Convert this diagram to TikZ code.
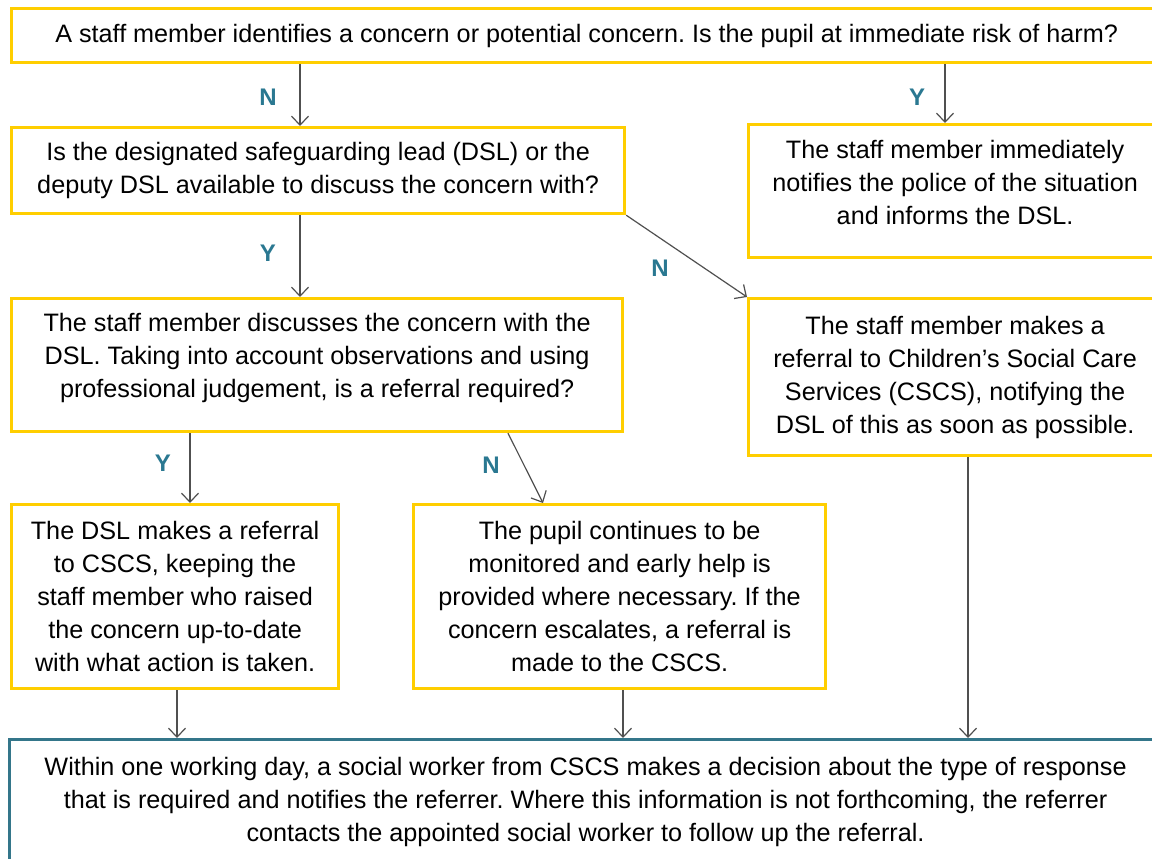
\documentclass[tikz,border=0pt]{standalone}
\usepackage{fontspec}
\setmainfont{Liberation Sans}
\usetikzlibrary{arrows.meta}
\definecolor{boxyellow}{RGB}{255,206,0}
\definecolor{teal}{RGB}{52,118,138}
\definecolor{labteal}{RGB}{42,120,145}
\definecolor{arrgray}{RGB}{80,80,80}
\frenchspacing
\begin{document}
\begin{tikzpicture}[x=1pt,y=-1pt,
  ybox/.style={draw=boxyellow,line width=3.2pt,anchor=north west,inner sep=0pt,align=center,
    font=\fontsize{25.2}{33}\selectfont,text=black},
  tbox/.style={ybox,draw=teal},
  arr/.style={draw=arrgray,line width=1.2pt,-{Straight Barb[length=9pt,width=17pt,line width=1.2pt]}},
  lab/.style={text=labteal,font=\fontsize{24}{24}\selectfont\bfseries}]
\useasboundingbox (0,0) rectangle (1152,859);
\fill[white] (0,0) rectangle (1152,859);
\node[ybox,minimum width=1150pt,minimum height=54pt] (q1) at (10,7)
  {A staff member identifies a concern or potential concern. Is the pupil at immediate risk of harm?};
\node[ybox,minimum width=613pt,minimum height=86pt] (q2) at (10,126)
  {Is the designated safeguarding lead (DSL) or the\\deputy DSL available to discuss the concern with?};
\node[ybox,minimum width=413pt,minimum height=133pt] (police) at (747,123)
  {The staff member immediately\\notifies the police of the situation\\and informs the DSL.\\[-16pt]};
\node[ybox,minimum width=611pt,minimum height=133pt] (discuss) at (10,297)
  {The staff member discusses the concern with the\\DSL. Taking into account observations and using\\professional judgement, is a referral required?\\[-14pt]};
\node[ybox,minimum width=413pt,minimum height=157pt] (referral) at (747,297)
  {The staff member makes a\\referral to Children’s Social Care\\Services (CSCS), notifying the\\DSL of this as soon as possible.};
\node[ybox,minimum width=327pt,minimum height=184pt] (dslref) at (10,503)
  {The DSL makes a referral\\to CSCS, keeping the\\staff member who raised\\the concern up-to-date\\with what action is taken.};
\node[ybox,minimum width=412pt,minimum height=184pt] (monitor) at (412,503)
  {The pupil continues to be\\monitored and early help is\\provided where necessary. If the\\concern escalates, a referral is\\made to the CSCS.};
\node[tbox,minimum width=1152pt,minimum height=124pt] (final) at (8,738)
  {Within one working day, a social worker from CSCS makes a decision about the type of response\\that is required and notifies the referrer. Where this information is not forthcoming, the referrer\\contacts the appointed social worker to follow up the referral.};
% connectors
\draw[arr] (300,0 |- q1.south) -- (300,0 |- q2.north);
\draw[arr] (945,0 |- q1.south) -- (945,0 |- police.north);
\draw[arr] (300,0 |- q2.south) -- (300,0 |- discuss.north);
\draw[arr] (q2.south east) -- (referral.north west);
\draw[arr] (190,0 |- discuss.south) -- (190,0 |- dslref.north);
\draw[arr] (508,0 |- discuss.south) -- (543,0 |- monitor.north);
\draw[arr] (177,0 |- dslref.south) -- (177,0 |- final.north);
\draw[arr] (623,0 |- monitor.south) -- (623,0 |- final.north);
\draw[arr] (968,0 |- referral.south) -- (968,0 |- final.north);
% labels
\node[lab] (l1) at (268,97) {N};
\node[lab] (l2) at (917,97) {Y};
\node[lab] (l3) at (268,253) {Y};
\node[lab] (l4) at (660,268) {N};
\node[lab] (l5) at (163,463) {Y};
\node[lab] (l6) at (491,465) {N};
\end{tikzpicture}
\end{document}
